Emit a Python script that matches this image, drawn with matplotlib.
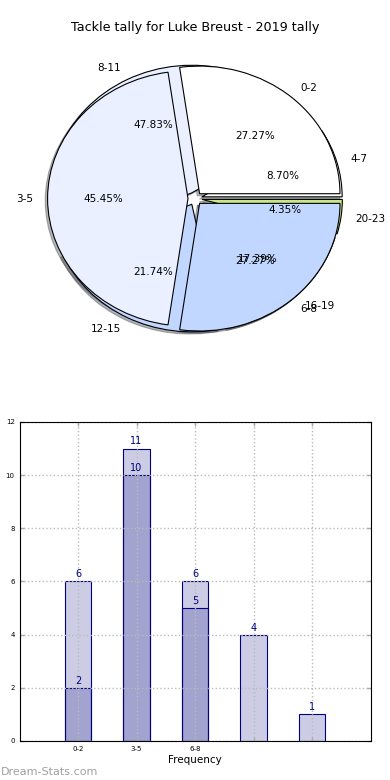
import matplotlib
matplotlib.use("Agg")
import matplotlib.pyplot as plt

title = "Tackle tally for Luke Breust - 2019 tally"
ranges_a = ["0-2", "3-5", "6-8"]
counts_a = [6, 10, 6]
ranges_b = ["4-7", "8-11", "12-15", "16-19", "20-23"]
counts_b = [2, 11, 5, 4, 1]
pie_colors = ["white", "#eaf0ff", "#c2d7ff", "#ffe4b5", "#c8e68c"]
bar_ticks = ["0-2", "3-5", "6-8", "", ""]

fig = plt.figure(figsize=(3.9, 7.8), dpi=100)
fig.subplots_adjust(left=0.05, right=0.95, top=0.95, bottom=0.05, hspace=0.2)
ax1 = fig.add_subplot(211)
ax2 = fig.add_subplot(212)

# two pies drawn on top of each other
wp = dict(linewidth=0.8, edgecolor="black")
tp = dict(fontsize=7.5)
sh = dict(ox=-0.012, oy=-0.012, alpha=0.4)
ax1.pie(counts_b, labels=ranges_b, colors=pie_colors, autopct="%.2f%%",
        explode=[0.05] * len(counts_b), shadow=sh, wedgeprops=wp, textprops=tp)
ax1.pie(counts_a, labels=ranges_a, colors=pie_colors[:3], autopct="%.2f%%",
        explode=[0.05] * len(counts_a), shadow=sh, wedgeprops=wp, textprops=tp)
ax1.set_aspect("auto")
ax1.set_xlim(-1.25, 1.25); ax1.set_ylim(-1.25, 1.25)
ax1.set_title(title, fontsize=9.2)

# overlapping bars
face = (0, 0, 0.5, 0.2)
for counts in (counts_a, counts_b):
    xs = range(len(counts))
    ax2.bar(xs, counts, width=0.45, color=face, edgecolor="navy", linewidth=0.8)
    for i, v in zip(xs, counts):
        ax2.text(i, v + 0.08, str(v), ha="center", va="bottom", color="navy", fontsize=7)

ax2.set_xlim(-1, 5); ax2.set_ylim(0, 12)
ax2.set_yticks(range(0, 13, 2))
ax2.set_xticks(range(len(bar_ticks)))
ax2.set_xticklabels(bar_ticks)
ax2.grid(True, linestyle=":", color="#bbbbbb", linewidth=1)
ax2.tick_params(labelsize=5, direction="in", top=True, right=True,
                color="#aaaaaa", length=3, width=1)
ax2.set_xlabel("Frequency", fontsize=7.5, labelpad=2)
ax2.set_ylabel("Stat Count Tally", fontsize=7.5)

fig.text(0.002, 0.007, "Dream-Stats.com", fontsize=8, color="#a0a0a0")

fig.savefig("out.png", dpi=100)
